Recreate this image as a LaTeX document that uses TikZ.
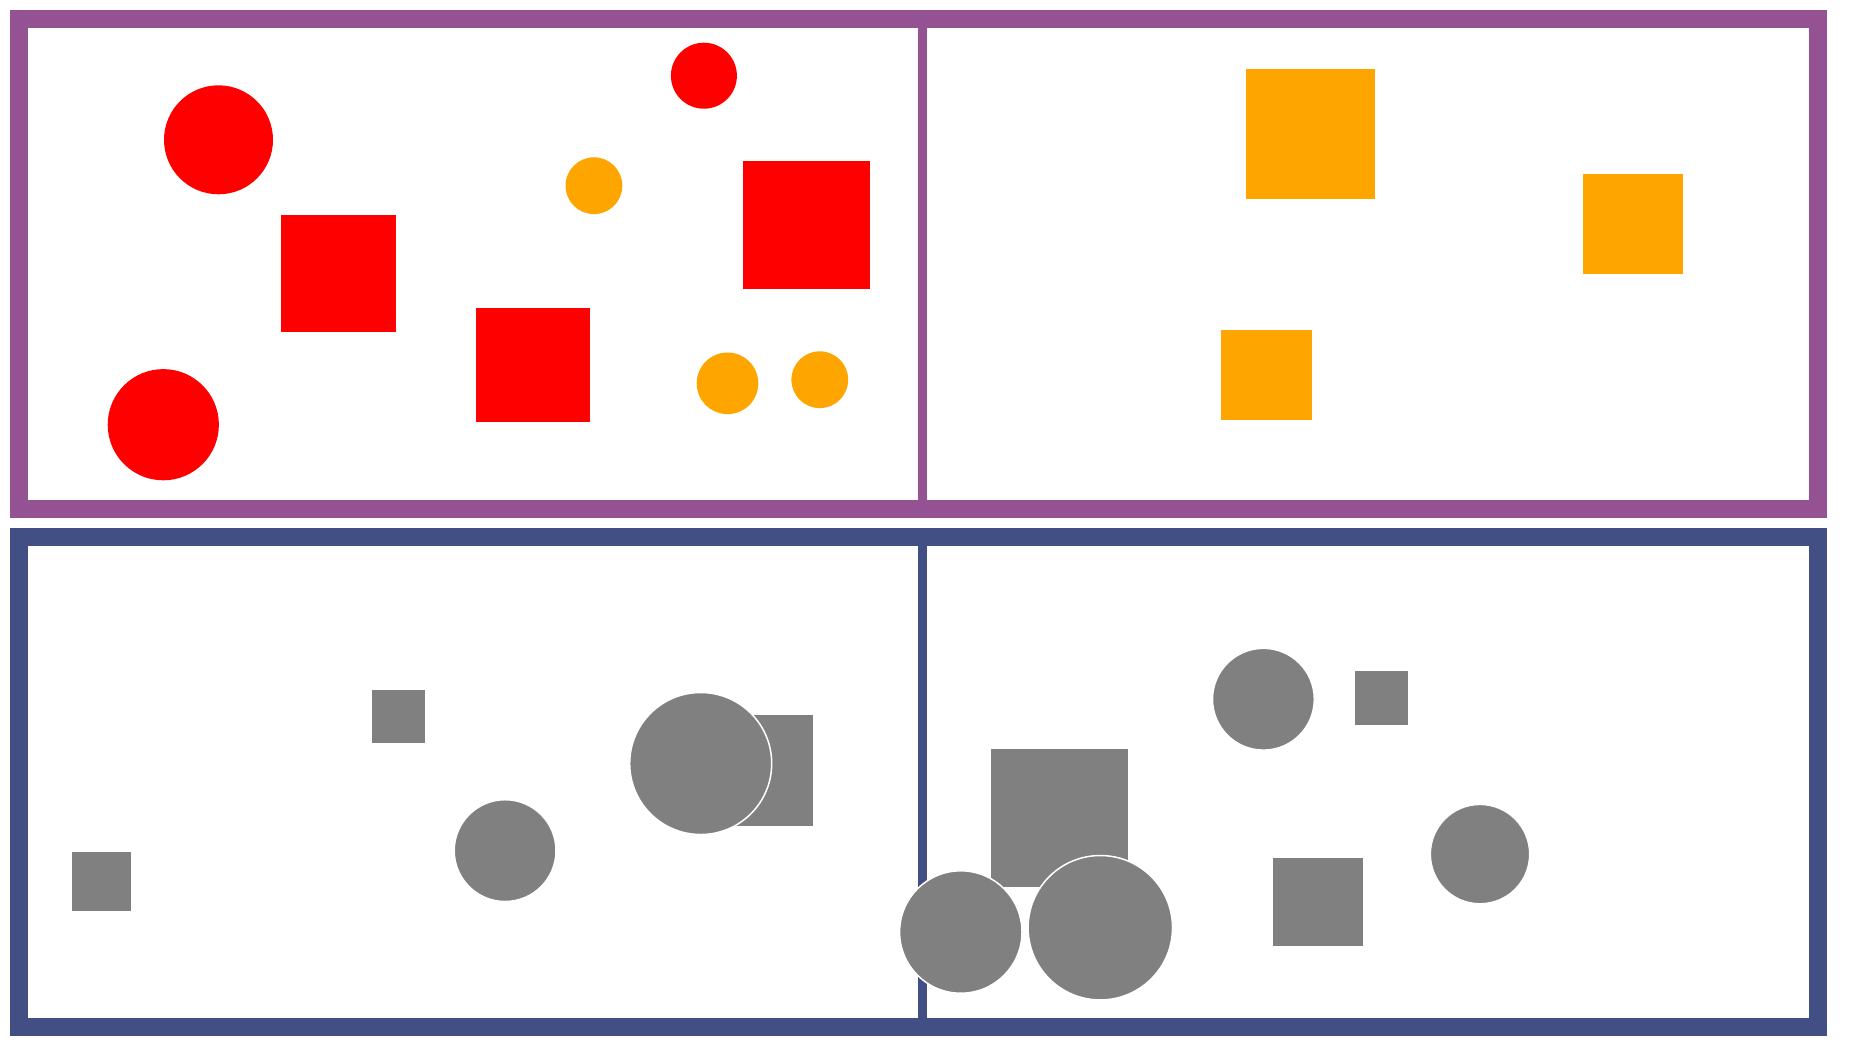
\documentclass[tikz,border=0pt]{standalone}
\definecolor{framepurple}{RGB}{149,82,147}
\definecolor{frameblue}{RGB}{66,79,132}
\definecolor{shapeorange}{RGB}{255,165,0}
\definecolor{shapegray}{RGB}{128,128,128}
\begin{document}
\begin{tikzpicture}[x=0.02cm,y=-0.02cm,
  frame/.style={line width=0.36cm},
  divider/.style={line width=0.18cm},
  redshape/.style={fill=red},
  orangeshape/.style={fill=shapeorange},
  grayshape/.style={fill=shapegray},
  graydisc/.style={fill=shapegray, draw=white, line width=0.03cm}]
\useasboundingbox (0,0) rectangle (1855,1056);
\fill[white] (0,0) rectangle (1855,1056);
% top panel
\draw[frame, framepurple] (19,19) rectangle (1818,509);
\draw[divider, framepurple] (922.5,28) -- (922.5,500);
\fill[redshape] (218.5,139.8) circle (54.5);
\fill[redshape] (281,215.3) rectangle (396.3,332.4);
\fill[redshape] (475.6,307.6) rectangle (590.3,422.3);
\fill[redshape] (163.3,424.7) circle (55.6);
\fill[redshape] (703.9,75.7) circle (33);
\fill[orangeshape] (593.9,185.7) circle (28.4);
\fill[redshape] (742.9,160.9) rectangle (869.5,288.6);
\fill[orangeshape] (727.5,383.3) circle (30.8);
\fill[orangeshape] (819.8,379.7) circle (28.4);
\fill[orangeshape] (1245.7,68.6) rectangle (1374.6,198.7);
\fill[orangeshape] (1582.8,173.9) rectangle (1683.4,274.4);
\fill[orangeshape] (1220.8,330) rectangle (1311.9,420);
% bottom panel
\draw[frame, frameblue] (19,537) rectangle (1818,1027);
\draw[divider, frameblue] (922.5,546) -- (922.5,1018);
\fill[grayshape] (371.5,689.7) rectangle (424.7,742.9);
\fill[grayshape] (72.2,851.8) rectangle (131.3,910.9);
\draw[graydisc] (505.1,850.6) circle (50.9);
\fill[grayshape] (703,715) rectangle (813,825.7);
\draw[graydisc] (700.7,763.5) circle (71);
\draw[graydisc] (1263.4,699.2) circle (50.9);
\fill[grayshape] (1354.5,670.8) rectangle (1407.8,725.2);
\fill[grayshape] (991,749) rectangle (1128,887);
\draw[graydisc] (960.8,932) circle (61.2);
\draw[graydisc] (1100.3,927.7) circle (72.2);
\draw[graydisc] (1480,854.1) circle (49.7);
\fill[grayshape] (1272.9,857.7) rectangle (1362.8,946.4);
\end{tikzpicture}
\end{document}
